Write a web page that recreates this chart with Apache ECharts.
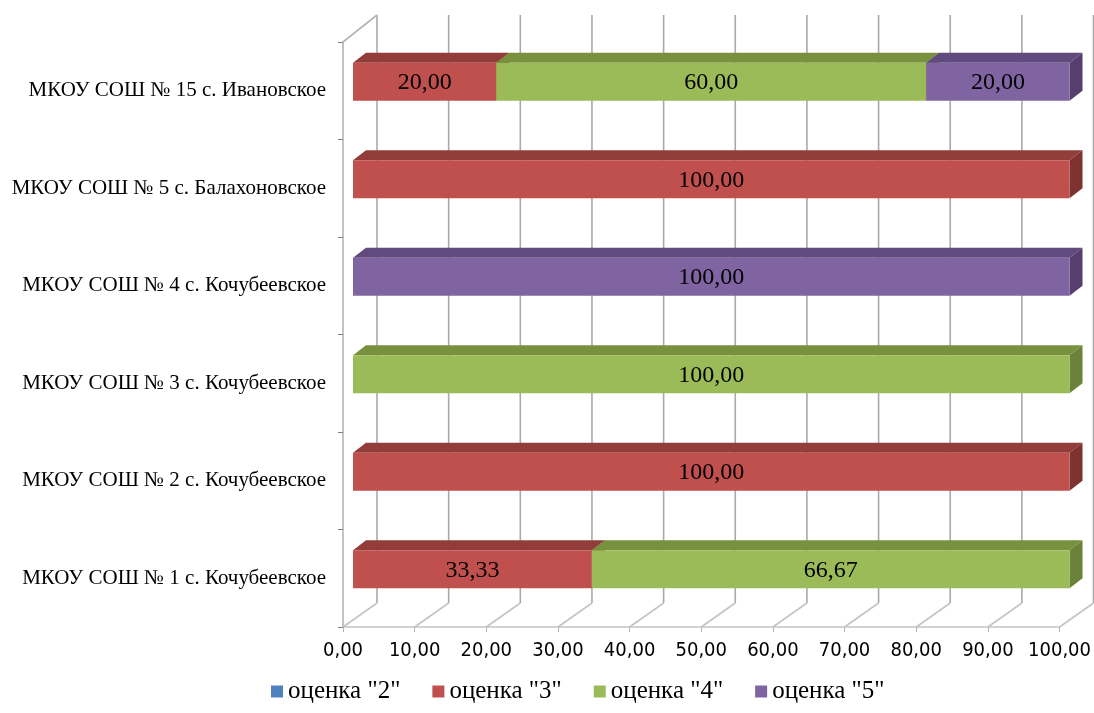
<!DOCTYPE html>
<html><head><meta charset="utf-8">
<script src="https://cdn.jsdelivr.net/npm/echarts@6/dist/echarts.min.js"></script>
<style>html,body{margin:0;padding:0;background:#fff}#c{width:1094px;height:713px}</style>
</head><body><div id="c"></div>
<script>
const categories = ['МКОУ СОШ № 1 с. Кочубеевское','МКОУ СОШ № 2 с. Кочубеевское','МКОУ СОШ № 3 с. Кочубеевское','МКОУ СОШ № 4 с. Кочубеевское','МКОУ СОШ № 5 с. Балахоновское','МКОУ СОШ № 15 с. Ивановское'];
const seriesNames = ['оценка "2"','оценка "3"','оценка "4"','оценка "5"'];
const grade2 = [0, 0, 0, 0, 0, 0];
const grade3 = [33.33, 100, 0, 0, 100, 20];
const grade4 = [66.67, 0, 100, 0, 0, 60];
const grade5 = [0, 0, 0, 100, 0, 20];
const xTicks = [0,10,20,30,40,50,60,70,80,90,100];

const allValues = [grade2, grade3, grade4, grade5];
const faceColors = ['#4F81BD','#C0504D','#9BBB59','#8064A2'];
const topColors = ['#3c6595','#923d3a','#77913f','#614a7e'];
const sideColors = ['#34577f','#7e3331','#6a8338','#553f6f'];

const FX = 10, FY = -9;     // bar front-face shift from front plane
const DX = 13, DY = -10;    // bar depth
const fmt = v => v.toFixed(2).replace('.', ',');

function buildData(si) {
  return categories.map((c, i) => {
    let start = 0;
    for (let k = 0; k < si; k++) start += allValues[k][i];
    return [i, start, start + allValues[si][i], allValues[si][i]];
  });
}

const barSeries = seriesNames.map((name, si) => ({
  name, type: 'custom',
  itemStyle: { color: faceColors[si] },
  data: buildData(si),
  encode: { y: 0, x: [1, 2] },
  z: 3,
  renderItem: function (params, api) {
    const val = api.value(3);
    if (!val) return null;
    const p0 = api.coord([api.value(1), api.value(0)]);
    const p1 = api.coord([api.value(2), api.value(0)]);
    const bandH = api.size([0, 1])[1];
    const h = bandH * 0.39;
    const x0 = p0[0] + FX, x1 = p1[0] + FX;
    const yT = p0[1] + FY - h / 2, yB = p0[1] + FY + h / 2;
    return {
      type: 'group',
      children: [
        { type: 'polygon', shape: { points: [[x0, yT], [x1, yT], [x1 + DX, yT + DY], [x0 + DX, yT + DY]] }, style: { fill: topColors[si] } },
        { type: 'polygon', shape: { points: [[x1, yT], [x1 + DX, yT + DY], [x1 + DX, yB + DY], [x1, yB]] }, style: { fill: sideColors[si] } },
        { type: 'rect', shape: { x: x0, y: yT, width: x1 - x0, height: yB - yT }, style: { fill: faceColors[si] } },
        { type: 'text', style: { x: (x0 + x1) / 2, y: (yT + yB) / 2 + 1, text: fmt(val), fill: '#000', font: '24px "Liberation Serif", "Times New Roman", serif', textAlign: 'center', textVerticalAlign: 'middle' } }
      ]
    };
  }
}));

const wallSeries = {
  type: 'custom', silent: true, z: 1,
  data: xTicks.map(v => [v]),
  encode: { x: 0 },
  renderItem: function (params, api) {
    const cs = params.coordSys;
    const top = cs.y, bottom = cs.y + cs.height;
    const x = api.coord([api.value(0), 0])[0];
    const ch = [
      { type: 'line', shape: { x1: x + 34, y1: top - 27, x2: x + 34, y2: bottom - 24 }, style: { stroke: '#a9a9a9', lineWidth: 1.6 } },
      { type: 'line', shape: { x1: x, y1: bottom, x2: x + 34, y2: bottom - 24 }, style: { stroke: '#c4c4c4', lineWidth: 1.6 } }
    ];
    if (api.value(0) === 0) {
      ch.push({ type: 'line', shape: { x1: x, y1: top, x2: x + 34, y2: top - 27 }, style: { stroke: '#b4b4b4', lineWidth: 1.6 } });
    }
    return { type: 'group', children: ch };
  }
};

const chart = echarts.init(document.getElementById('c'));
chart.setOption({
  animation: false,
  backgroundColor: '#fff',
  grid: { left: 343, right: 33, top: 42, bottom: 86 },
  xAxis: {
    type: 'value', min: 0, max: 100, interval: 10,
    axisLine: { show: true, lineStyle: { color: '#c4c4c4', width: 1.6 } },
    axisTick: { show: true, length: 5, lineStyle: { color: '#b4b4b4' } },
    splitLine: { show: false },
    axisLabel: { margin: 14, color: '#000', fontSize: 20, fontFamily: '"Liberation Sans Narrow", "DejaVu Sans Condensed", sans-serif', formatter: v => fmt(v) }
  },
  yAxis: {
    type: 'category', data: categories,
    axisLine: { show: true, lineStyle: { color: '#b4b4b4', width: 1.6 } },
    axisTick: { show: true, length: 5, lineStyle: { color: '#808080' } },
    axisLabel: { margin: 17, color: '#000', fontSize: 21, fontFamily: '"Liberation Serif", "Times New Roman", serif' }
  },
  legend: {
    data: seriesNames, bottom: 4, left: 266,
    icon: 'rect', itemWidth: 12, itemHeight: 12, itemGap: 32,
    textStyle: { color: '#000', fontSize: 25, fontFamily: '"Liberation Serif", "Times New Roman", serif' }
  },
  series: [wallSeries, ...barSeries]
});
</script></body></html>
